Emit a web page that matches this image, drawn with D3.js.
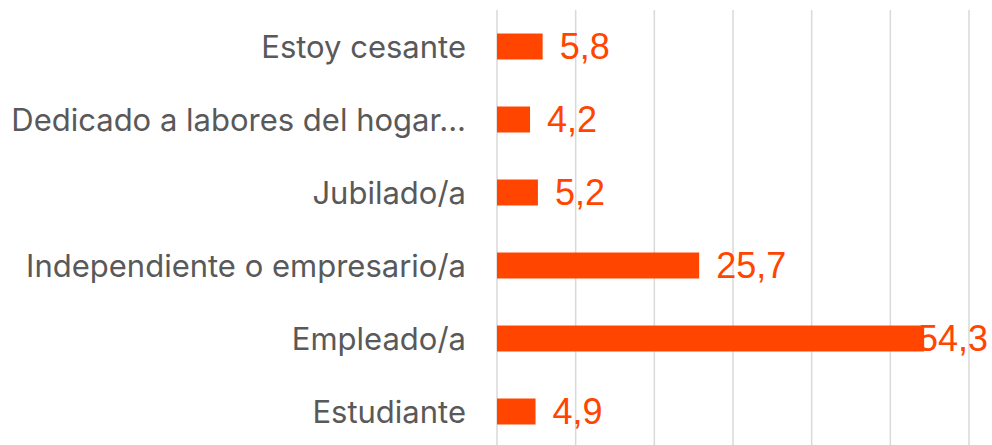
<!DOCTYPE html>
<html>
<head>
<meta charset="utf-8">
<script src="https://cdn.jsdelivr.net/npm/d3@7"></script>
<style>
  body { margin: 0; background: #fff; }
</style>
</head>
<body>
<svg id="chart"></svg>
<script>
const width = 992;
const height = 445;

const categories = ['Estoy cesante', 'Dedicado a labores del hogar...', 'Jubilado/a',
    'Independiente o empresario/a', 'Empleado/a', 'Estudiante'];
const values = [5.8, 4.2, 5.2, 25.7, 54.3, 4.9];
const ticks = [0, 10, 20, 30, 40, 50, 60];

const orange = '#ff4500';

const svg = d3.select('#chart')
    .attr('width', width)
    .attr('height', height);

const x = d3.scaleLinear().domain([0, 60]).range([497, 969]);
const y = d3.scaleBand().domain(categories).range([10, 448])
    .paddingInner(0.644).paddingOuter(0.322);

// vertical gridlines
svg.append('g')
    .selectAll('line')
    .data(ticks)
    .enter()
    .append('line')
    .attr('x1', d => x(d))
    .attr('x2', d => x(d))
    .attr('y1', 10)
    .attr('y2', height)
    .attr('stroke', '#d9d9d9')
    .attr('stroke-width', 1.5);

const data = categories.map((c, i) => ({cat: c, value: values[i]}));

svg.append('g')
    .selectAll('rect')
    .data(data)
    .enter()
    .append('rect')
    .attr('x', x(0))
    .attr('y', d => y(d.cat))
    .attr('width', d => x(d.value) - x(0))
    .attr('height', y.bandwidth())
    .attr('fill', orange);

// category labels
svg.append('g')
    .selectAll('text')
    .data(data)
    .enter()
    .append('text')
    .attr('x', 466)
    .attr('y', d => y(d.cat) + y.bandwidth() / 2)
    .attr('dy', '0.36em')
    .attr('text-anchor', 'end')
    .attr('font-family', 'Inter, sans-serif')
    .attr('font-size', 31)
    .attr('fill', '#595959')
    .text(d => d.cat);

// value labels, kept inside the plot area
const valueLabels = svg.append('g')
    .selectAll('text')
    .data(data)
    .enter()
    .append('text')
    .attr('y', d => y(d.cat) + y.bandwidth() / 2)
    .attr('dy', '0.36em')
    .attr('font-family', 'Liberation Sans, Arial, sans-serif')
    .attr('font-size', 36)
    .attr('fill', orange)
    .text(d => d3.format('.1f')(d.value).replace('.', ','));

valueLabels.each(function (d) {
    const w = this.getComputedTextLength();
    const pos = Math.min(x(d.value) + 17, 988 - w);
    d3.select(this).attr('x', pos);
});
</script>
</body>
</html>
